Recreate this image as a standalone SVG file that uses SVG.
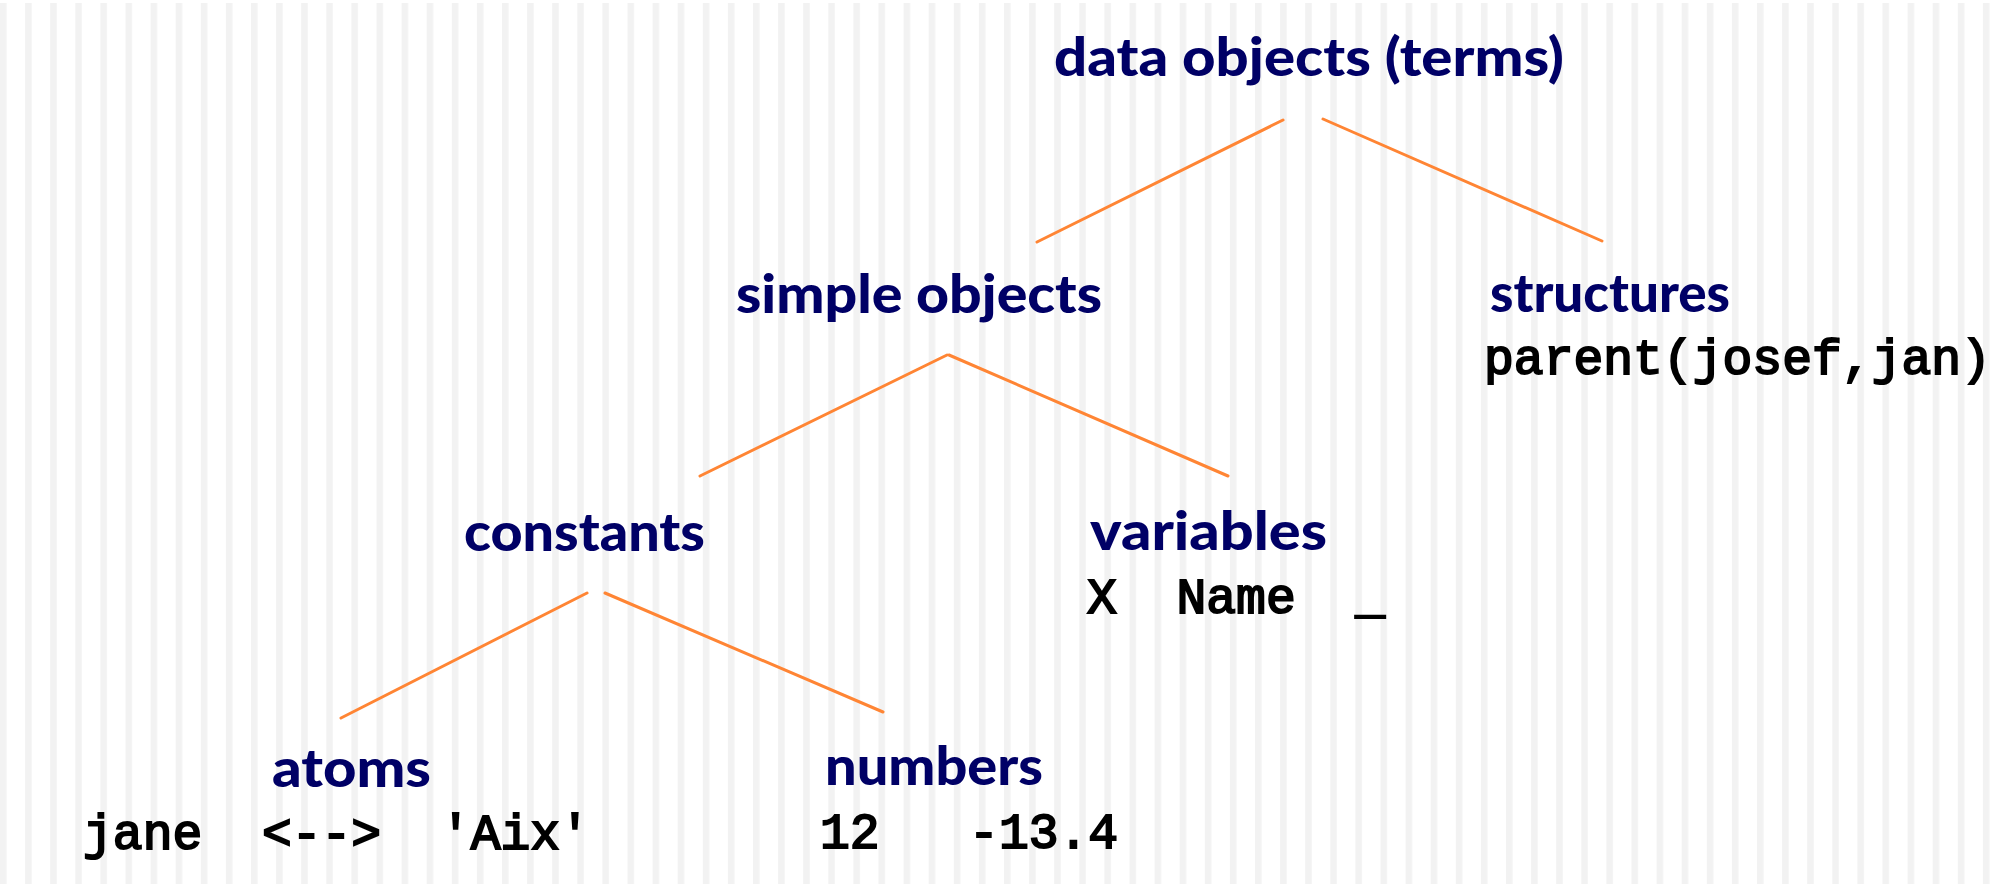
<svg xmlns="http://www.w3.org/2000/svg" width="2000" height="887" viewBox="0 0 2000 887">
  <defs>
    <pattern id="stripes" patternUnits="userSpaceOnUse" x="0" y="0" width="25.1" height="887">
      <rect x="0" y="0" width="6.5" height="887" fill="#f2f2f2"/>
    </pattern>
    <style>
      .head { font-family: "Lato", "DejaVu Sans", sans-serif; font-weight: 900; font-size: 54px; fill: #000066; }
      .mono { font-family: "Liberation Mono", "Courier New", monospace; font-weight: normal; font-size: 49.7px; fill: #000000; stroke: #000000; stroke-width: 2; white-space: pre; }
      .edge { stroke: #ff8534; stroke-width: 3; stroke-linecap: round; fill: none; }
    </style>
  </defs>
  <rect x="0" y="0" width="2000" height="887" fill="#ffffff"/>
  <rect x="0" y="3" width="2000" height="881" fill="url(#stripes)"/>

  <g id="connectors">
    <line class="edge" x1="1283" y1="120" x2="1037" y2="242"/>
    <line class="edge" x1="1323" y1="119" x2="1602" y2="241"/>
    <line class="edge" x1="947" y1="355" x2="700" y2="476"/>
    <line class="edge" x1="949" y1="355" x2="1228" y2="476"/>
    <line class="edge" x1="587" y1="593" x2="341" y2="718"/>
    <line class="edge" x1="605" y1="593" x2="883" y2="712"/>
  </g>

  <g id="node-data-objects">
    <text class="head" x="1054" y="76" textLength="510" lengthAdjust="spacingAndGlyphs">data objects (terms)</text>
  </g>
  <g id="node-simple-objects">
    <text class="head" x="736" y="313" textLength="366" lengthAdjust="spacingAndGlyphs">simple objects</text>
  </g>
  <g id="node-structures">
    <text class="head" x="1490" y="312" textLength="240" lengthAdjust="spacingAndGlyphs">structures</text>
    <text class="mono" x="1484" y="374" xml:space="preserve">parent(josef,jan)</text>
  </g>
  <g id="node-constants">
    <text class="head" x="464" y="551" textLength="241" lengthAdjust="spacingAndGlyphs">constants</text>
  </g>
  <g id="node-variables">
    <text class="head" x="1090" y="550" textLength="237" lengthAdjust="spacingAndGlyphs">variables</text>
    <text class="mono" x="1087" y="613" xml:space="preserve">X  Name  _</text>
  </g>
  <g id="node-atoms">
    <text class="head" x="272" y="787" textLength="159" lengthAdjust="spacingAndGlyphs">atoms</text>
    <text class="mono" x="83" y="849" xml:space="preserve">jane  &lt;--&gt;  'Aix'</text>
  </g>
  <g id="node-numbers">
    <text class="head" x="825" y="785" textLength="218" lengthAdjust="spacingAndGlyphs">numbers</text>
    <text class="mono" x="820" y="848" xml:space="preserve">12   -13.4</text>
  </g>
</svg>
